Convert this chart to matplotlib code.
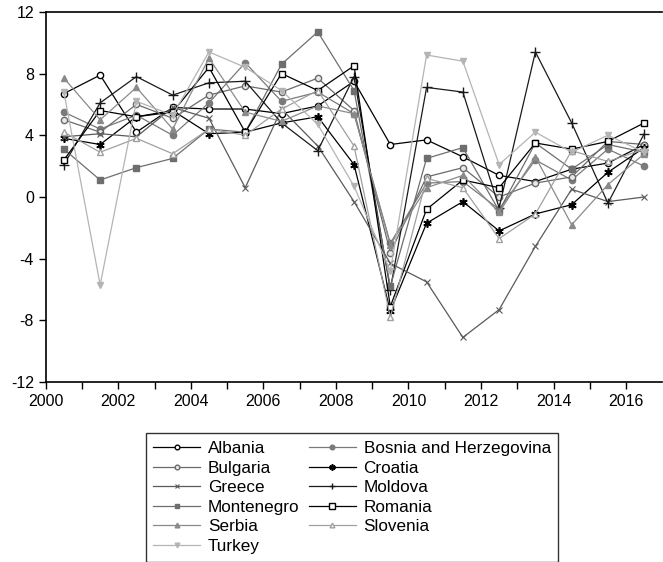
import matplotlib.pyplot as plt

plt.rcParams['font.family'] = ['Liberation Sans', 'DejaVu Sans']
plt.rcParams['axes.unicode_minus'] = False

years = [y + 0.5 for y in range(2000, 2017)]

albania = [6.7, 7.9, 4.2, 5.8, 5.7, 5.7, 5.4, 5.9, 7.5, 3.4, 3.7, 2.6, 1.4, 1.0, 1.8, 2.2, 3.4]
bosnia = [5.5, 4.4, 5.3, 4.0, 6.1, 8.7, 6.2, 6.8, 5.4, -3.0, 0.9, 1.0, -0.8, 2.4, 1.1, 3.1, 2.0]
bulgaria = [5.0, 4.2, 6.0, 5.1, 6.6, 7.2, 6.8, 7.7, 5.6, -3.6, 1.3, 1.9, 0.0, 0.9, 1.3, 3.6, 3.4]
croatia = [3.8, 3.4, 5.2, 5.6, 4.1, 4.2, 4.8, 5.2, 2.1, -7.4, -1.7, -0.3, -2.2, -1.1, -0.5, 1.6, 3.2]
greece = [3.9, 4.1, 3.9, 5.8, 5.1, 0.6, 5.7, 3.3, -0.3, -4.3, -5.5, -9.1, -7.3, -3.2, 0.5, -0.3, 0.0]
moldova = [2.1, 6.1, 7.8, 6.6, 7.4, 7.5, 4.8, 3.0, 7.8, -6.0, 7.1, 6.8, -0.7, 9.4, 4.8, -0.4, 4.1]
montenegro = [3.1, 1.1, 1.9, 2.5, 4.4, 4.2, 8.6, 10.7, 6.9, -5.8, 2.5, 3.2, -0.9, 3.5, 1.8, 3.4, 2.9]
romania = [2.4, 5.6, 5.2, 5.5, 8.4, 4.2, 8.0, 6.9, 8.5, -7.1, -0.8, 1.1, 0.6, 3.5, 3.1, 3.6, 4.8]
serbia = [7.7, 5.0, 7.1, 4.4, 9.0, 5.5, 4.9, 5.9, 5.4, -3.1, 0.6, 1.4, -1.0, 2.6, -1.8, 0.8, 2.8]
slovenia = [4.2, 2.9, 3.8, 2.8, 4.4, 4.0, 5.7, 6.9, 3.3, -7.8, 1.2, 0.6, -2.7, -1.1, 3.0, 2.3, 3.1]
turkey = [6.8, -5.7, 6.2, 5.3, 9.4, 8.4, 6.9, 4.7, 0.7, -4.8, 9.2, 8.8, 2.1, 4.2, 2.9, 4.0, 2.9]

fig = plt.figure(figsize=(6.63, 5.62), dpi=100)
ax = fig.add_axes([0.069, 0.320, 0.93, 0.659])

ms = 4.5
lw = 0.9
lines = {}
lines['Albania'] = ax.plot(years, albania, color='black', lw=lw, marker='o', ms=ms, mfc='white', mec='black')[0]
lines['Bosnia and Herzegovina'] = ax.plot(years, bosnia, color='#7a7a7a', lw=lw, marker='o', ms=ms, mfc='#7a7a7a', mec='#7a7a7a')[0]
lines['Bulgaria'] = ax.plot(years, bulgaria, color='#6a6a6a', lw=lw, marker='o', ms=ms, mfc='#e8e8e8', mec='#6a6a6a')[0]
lines['Croatia'] = ax.plot(years, croatia, color='black', lw=lw, marker=(6, 2, 0), ms=ms + 1.5, mec='black', mew=1.2)[0]
lines['Greece'] = ax.plot(years, greece, color='#5a5a5a', lw=lw, marker='x', ms=ms, mec='#5a5a5a', mew=0.8)[0]
lines['Moldova'] = ax.plot(years, moldova, color='#1a1a1a', lw=lw, marker='+', ms=ms + 2, mec='#1a1a1a', mew=1.0)[0]
lines['Montenegro'] = ax.plot(years, montenegro, color='#6e6e6e', lw=lw, marker='s', ms=ms, mfc='#6e6e6e', mec='#6e6e6e')[0]
lines['Romania'] = ax.plot(years, romania, color='black', lw=lw, marker='s', ms=ms + 0.5, mfc='white', mec='black')[0]
lines['Serbia'] = ax.plot(years, serbia, color='#8a8a8a', lw=lw, marker='^', ms=ms, mfc='#8a8a8a', mec='#8a8a8a')[0]
lines['Slovenia'] = ax.plot(years, slovenia, color='#a0a0a0', lw=lw, marker='^', ms=ms, mfc='white', mec='#a0a0a0')[0]
lines['Turkey'] = ax.plot(years, turkey, color='#b4b4b4', lw=lw, marker='v', ms=ms, mfc='#b4b4b4', mec='#b4b4b4')[0]

ax.set_xlim(2000, 2017)
ax.set_ylim(-12, 12)
ax.set_yticks([-12, -8, -4, 0, 4, 8, 12])
ax.set_xticks(range(2000, 2017))
ax.set_xticklabels([str(y) if y % 2 == 0 else '' for y in range(2000, 2017)])
ax.tick_params(direction='out', length=5, width=1, labelsize=11.5, colors='black')
ax.spines['right'].set_visible(False)
for s in ['left', 'bottom', 'top']:
    ax.spines[s].set_linewidth(1.2)

order = ['Albania', 'Bulgaria', 'Greece', 'Montenegro', 'Serbia', 'Turkey',
         'Bosnia and Herzegovina', 'Croatia', 'Moldova', 'Romania', 'Slovenia']
leg = fig.legend([lines[k] for k in order], order, ncol=2, loc='upper center',
                 bbox_to_anchor=(0.531, 0.229), bbox_transform=fig.transFigure,
                 fontsize=12.3, frameon=True, fancybox=False, edgecolor='black',
                 handlelength=2.75, handletextpad=0.45, columnspacing=0.55,
                 labelspacing=0.27, borderpad=0.45, borderaxespad=0, markerscale=0.75)
leg.get_frame().set_linewidth(1.0)

fig.savefig('out.png', dpi=100)
